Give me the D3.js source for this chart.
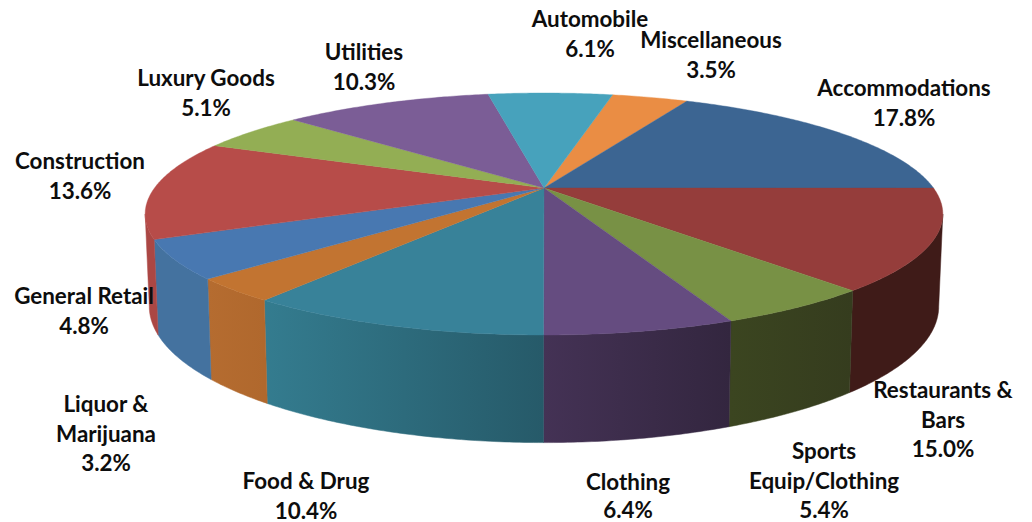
<!DOCTYPE html>
<html>
<head>
<meta charset="utf-8">
<script src="https://cdn.jsdelivr.net/npm/d3@7"></script>
<style>
html, body { margin: 0; padding: 0; background: #fff; }
text { font-family: Lato, "Open Sans", sans-serif; font-weight: 700; fill: #0d0d0d; }
</style>
</head>
<body>
<div id="chart"></div>
<script>
var w = 1032, h = 522;

// printed labels, clockwise from Miscellaneous
var categories = ["Miscellaneous", "Accommodations", "Restaurants &|Bars", "Sports|Equip/Clothing", "Clothing", "Food & Drug",
                  "Liquor &|Marijuana", "General Retail", "Construction", "Luxury Goods", "Utilities", "Automobile"];
var printedPct = ["3.5%", "17.8%", "15.0%", "5.4%", "6.4%", "10.4%", "3.2%", "4.8%", "13.6%", "5.1%", "10.3%", "6.1%"];
// slice sizes as read off the drawn wedges (the printed ones don't add up to 100)
var sliceShare = [3.8, 17.8, 13.4, 5.3, 6.3, 10.1, 3.1, 5.1, 13.2, 5.3, 10.4, 6.2];

var topColors = ["#ea8d44", "#3c6592", "#953d3b", "#789145", "#654c80", "#388299",
                 "#c27431", "#4878b1", "#b74c49", "#93ae54", "#7b5d96", "#47a2bc"];
var wallLeft = ["#ea8d44", "#3c6592", "#3f1b18", "#3b4520", "#443255", "#347c8f",
                "#b56c30", "#44729f", "#ab4744", "#93ae54", "#7b5d96", "#47a2bc"];
var wallRight = ["#ea8d44", "#3c6592", "#3f1b18", "#353c1e", "#33263f", "#265a69",
                 "#b0682d", "#44729f", "#ab4744", "#93ae54", "#7b5d96", "#47a2bc"];

// center x, baseline of first line
var labelAt = [[711, 48], [904, 96], [943, 398], [824, 459], [628, 490], [306, 489],
               [106, 412], [84, 304], [80, 169], [206, 86], [364, 60], [590, 27]];
var lineH = 29.5;
var clothingLineH = 27.5; // last line sits on the bottom edge

// perspective of the disc
var cx = 544, cy = 188, k = 0.215;
var radX = 389.5, radY = 115.4;          // top face
var botX = 385.5, botY = 130, botCy = 277; // bottom face
var firstAngle = 12.3 * Math.PI / 180;
var tangent = Math.asin(k);            // silhouette of the disc
var wallFrom = Math.PI / 2 + tangent, wallTo = 3 * Math.PI / 2 - tangent;

function project(a, rx, ry, y0) {
    var u = Math.sin(a), v = -Math.cos(a), den = 1 - k * v;
    return [cx + rx * u / den, y0 + ry * v / den];
}
function rim(a0, a1, rx, ry, y0) {
    var n = Math.max(2, Math.ceil((a1 - a0) / 0.01));
    return d3.range(n + 1).map(function (i) { return project(a0 + (a1 - a0) * i / n, rx, ry, y0); });
}
var line = d3.line();

var svg = d3.select("#chart").append("svg")
    .attr("width", w)
    .attr("height", h)
    .style("display", "block");

var arcs = d3.pie().sort(null).value(function (d) { return d; })
    .startAngle(firstAngle).endAngle(firstAngle + 2 * Math.PI)(sliceShare);

var defs = svg.append("defs");

// walls first, top face over them
arcs.forEach(function (d, i) {
    var a0 = Math.max(d.startAngle, wallFrom), a1 = Math.min(d.endAngle, wallTo);
    if (a1 <= a0) return;
    var upper = rim(a0, a1, radX, radY, cy);
    var lower = rim(a0, a1, botX, botY, botCy).reverse();
    var xs = upper.map(function (p) { return p[0]; });
    var grad = defs.append("linearGradient")
        .attr("id", "wall" + i)
        .attr("gradientUnits", "userSpaceOnUse")
        .attr("x1", d3.min(xs)).attr("x2", d3.max(xs))
        .attr("y1", 0).attr("y2", 0);
    grad.append("stop").attr("offset", 0).attr("stop-color", wallLeft[i]);
    grad.append("stop").attr("offset", 1).attr("stop-color", wallRight[i]);
    svg.append("path")
        .attr("d", line(upper.concat(lower)) + "Z")
        .attr("fill", "url(#wall" + i + ")")
        .attr("stroke", "url(#wall" + i + ")")
        .attr("stroke-width", 0.5);
});

svg.selectAll("path.top")
    .data(arcs)
    .enter()
    .append("path")
    .attr("class", "top")
    .attr("d", function (d) {
        return line([[cx, cy]].concat(rim(d.startAngle, d.endAngle, radX, radY, cy))) + "Z";
    })
    .attr("fill", function (d, i) { return topColors[i]; })
    .attr("stroke", function (d, i) { return topColors[i]; })
    .attr("stroke-width", 0.4);

var labels = svg.selectAll("text.lab")
    .data(categories)
    .enter()
    .append("text")
    .attr("class", "lab")
    .attr("text-anchor", "middle")
    .attr("font-size", 22.4);

labels.each(function (d, i) {
    var lines = d.split("|").concat(printedPct[i]);
    var step = categories[i] === "Clothing" ? clothingLineH : lineH;
    d3.select(this).selectAll("tspan")
        .data(lines)
        .enter()
        .append("tspan")
        .attr("x", labelAt[i][0])
        .attr("y", function (t, j) { return labelAt[i][1] + j * step; })
        .text(function (t) { return t; });
});
</script>
</body>
</html>
